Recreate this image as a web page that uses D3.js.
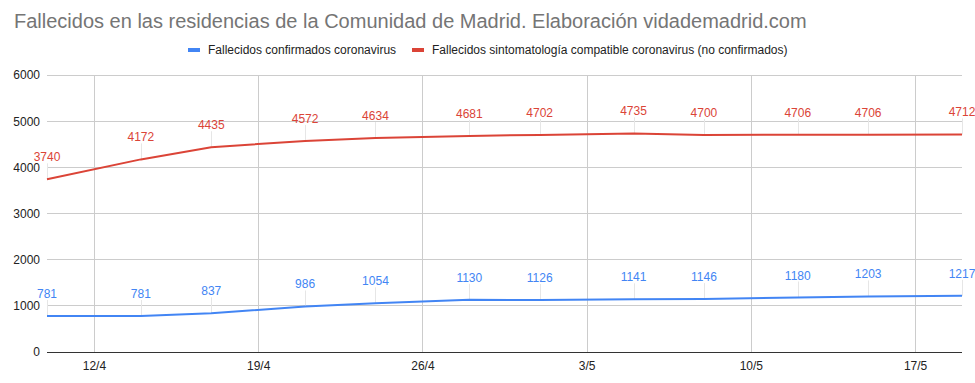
<!DOCTYPE html>
<html><head><meta charset="utf-8">
<script src="https://cdn.jsdelivr.net/npm/d3@7"></script>
<style>body{margin:0;background:#fff}svg{display:block;font-family:Arial,"Liberation Sans",sans-serif}</style>
</head><body><svg id="c" width="975" height="383"></svg>
<script>
const dates = ["2020-04-10","2020-04-14","2020-04-17","2020-04-21","2020-04-24","2020-04-28","2020-05-01","2020-05-05","2020-05-08","2020-05-12","2020-05-15","2020-05-19"];
const confirmed = [781,781,837,986,1054,1130,1126,1141,1146,1180,1203,1217];
const compatible = [3740,4172,4435,4572,4634,4681,4702,4735,4700,4706,4706,4712];
const seriesNames = ["Fallecidos confirmados coronavirus","Fallecidos sintomatología compatible coronavirus (no confirmados)"];
const seriesColors = ["#4285f4","#db4437"];
const xTickLabels = ["12/4","19/4","26/4","3/5","10/5","17/5"];
const yTicks = [0,1000,2000,3000,4000,5000,6000];
const title = "Fallecidos en las residencias de la Comunidad de Madrid. Elaboración vidademadrid.com";

const svg = d3.select("#c");
const L = 47, R = 962, T = 75, B = 352;
const parse = d3.utcParse("%Y-%m-%d");
const dd = dates.map(parse);
const tickDates = xTickLabels.map(s => { const [d,m] = s.split("/").map(Number); return new Date(Date.UTC(2020, m-1, d)); });
const x = d3.scaleUtc().domain([dd[0], dd[dd.length-1]]).range([L, R]);
const y = d3.scaleLinear().domain([0, 6000]).range([B, T]);

// title
svg.append("text").attr("x", 14).attr("y", 28).attr("font-size", 20).attr("fill", "#757575").text(title);

// legend
const leg = [{x:188, tx:208}, {x:412, tx:432}];
seriesNames.forEach((n,i) => {
  svg.append("rect").attr("x", leg[i].x).attr("y", 48).attr("width", 12).attr("height", 4).attr("fill", seriesColors[i]);
  svg.append("text").attr("x", leg[i].tx).attr("y", 54).attr("font-size", 12).attr("fill", "#222").text(n);
});

// grid
const g = svg.append("g");
g.selectAll(".hg").data(yTicks.filter(d => d > 0)).join("line")
  .attr("x1", L).attr("x2", R).attr("y1", d => y(d)).attr("y2", d => y(d))
  .attr("stroke", "#cccccc").attr("stroke-width", 1).attr("shape-rendering", "crispEdges");
g.selectAll(".vg").data(tickDates).join("line")
  .attr("x1", d => Math.round(x(d))+0.5).attr("x2", d => Math.round(x(d))+0.5).attr("y1", T).attr("y2", B)
  .attr("stroke", "#cccccc").attr("stroke-width", 1);

// y axis labels
const yAxis = d3.axisLeft(y).tickValues(yTicks).tickSize(0).tickPadding(7).tickFormat(d3.format("d"));
const ya = svg.append("g").attr("transform", `translate(${L},0)`).call(yAxis);
ya.select(".domain").remove();
ya.selectAll("text").attr("font-size", 12).attr("font-family", "Arial,'Liberation Sans',sans-serif").attr("fill", "#222");

// x axis labels
const xAxis = d3.axisBottom(x).tickValues(tickDates).tickSize(0).tickPadding(9).tickFormat((d,i) => xTickLabels[i]);
const xa = svg.append("g").attr("transform", `translate(0,${B})`).call(xAxis);
xa.select(".domain").remove();
xa.selectAll("text").attr("font-size", 12).attr("font-family", "Arial,'Liberation Sans',sans-serif").attr("fill", "#222");

// baseline
svg.append("line").attr("x1", L).attr("x2", R).attr("y1", Math.round(y(0))+0.5).attr("y2", Math.round(y(0))+0.5)
  .attr("stroke", "#333").attr("stroke-width", 1);

const series = [confirmed, compatible];
const line = d3.line().x((d,i) => x(dd[i])).y(d => y(d)).curve(d3.curveLinear);

series.forEach((vals, si) => {
  svg.append("g").selectAll("line").data(vals).join("line")
    .attr("x1", (d,i) => Math.round(x(dd[i]))+0.5).attr("x2", (d,i) => Math.round(x(dd[i]))+0.5)
    .attr("y1", d => y(d)).attr("y2", d => y(d) - 16)
    .attr("stroke", "#e6e6e6").attr("stroke-width", 1);
});
series.forEach((vals, si) => {
  svg.append("path").datum(vals).attr("d", line).attr("fill", "none")
    .attr("stroke", seriesColors[si]).attr("stroke-width", 2).attr("stroke-linejoin", "round");
});
series.forEach((vals, si) => {
  svg.append("g").selectAll("text").data(vals).join("text")
    .attr("x", (d,i) => x(dd[i])).attr("y", d => y(d) - 18)
    .attr("text-anchor", "middle").attr("font-size", 12).attr("fill", seriesColors[si])
    .text(d => d);
});
</script></body></html>
